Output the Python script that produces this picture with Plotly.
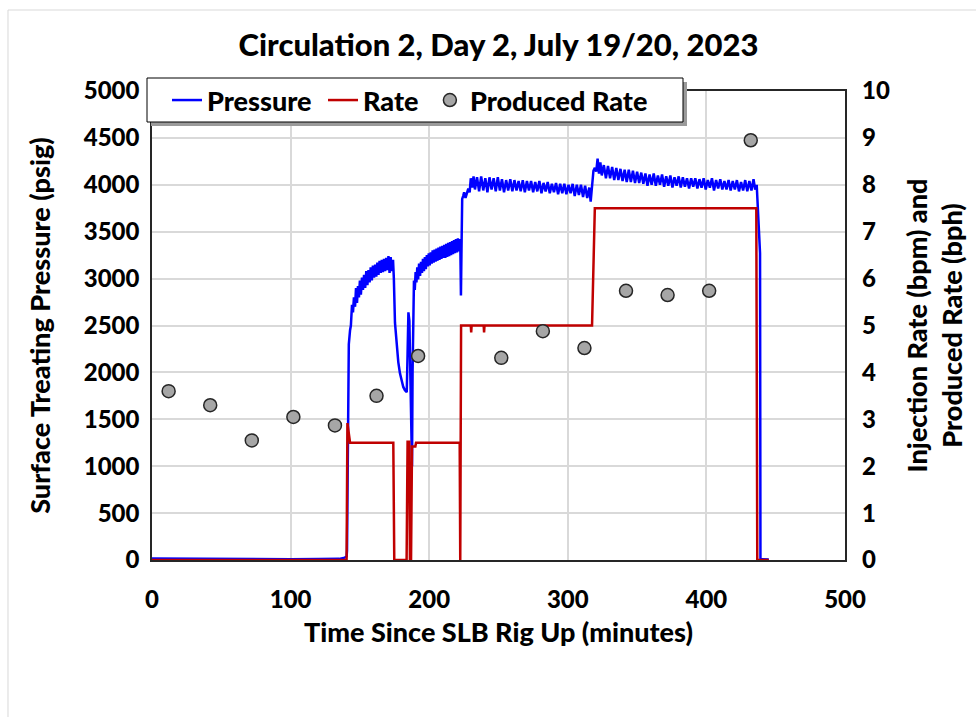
import plotly.graph_objects as go

# ---------------- data ----------------
# Pressure trace, segment by segment (minutes, psig)
p_t_base = [0, 20, 40, 60, 80, 100, 120, 135, 139, 140.4]
p_v_base = [15, 12, 10, 10, 8, 8, 10, 12, 25, 40]

p_t_rise1 = [140.7, 141.4, 142.0, 142.9, 143.5, 144.3, 145.0, 145.7, 146.5, 147.2, 147.9, 148.6,
             149.3, 150.0, 150.7, 151.5, 152.2, 153.0, 153.8, 154.6, 155.4, 156.2, 157.0, 157.8,
             158.6, 159.4, 160.2, 161.0, 161.8, 162.6, 163.4, 164.2, 165.0, 165.8, 166.6, 167.4,
             168.2, 169.0, 169.8, 170.6, 171.4, 172.2, 173.0, 173.9]
p_v_rise1 = [100, 1500, 2300, 2450, 2500, 2720, 2640, 2800, 2700, 2900, 2740, 2920,
             2800, 2980, 2830, 3010, 2880, 3040, 2900, 3080, 2930, 3090, 2960, 3120,
             2980, 3140, 3010, 3150, 3020, 3170, 3040, 3190, 3060, 3200, 3070, 3210,
             3080, 3220, 3090, 3240, 3060, 3230, 3080, 3200]

p_t_fall = [174.5, 175.3, 176.5, 177.7, 178.9, 180.1, 181.3, 182.5, 183.8, 184.4, 185.0, 185.7,
            186.4, 187.0, 187.6]
p_v_fall = [3000, 2530, 2270, 2110, 1990, 1910, 1845, 1810, 1790, 2200, 2640, 2550,
            1800, 1100, 1000]

p_t_rise2 = [188.0, 188.5, 189.0, 189.6, 190.2, 190.8, 191.4, 192.0, 192.7, 193.4, 194.1, 194.8,
             195.5, 196.2, 196.9, 197.6, 198.3, 199.0, 199.7, 200.4, 201.1, 201.8, 202.5, 203.2,
             203.9, 204.6, 205.3, 206.0, 206.7, 207.4, 208.1, 208.8, 209.5, 210.2, 210.9, 211.6,
             212.3, 213.0, 213.7, 214.4, 215.1, 215.8, 216.5, 217.2, 217.9, 218.6, 219.3, 220.0,
             220.7, 221.4, 222.0, 222.5, 222.9, 223.3, 223.8]
p_v_rise2 = [2000, 2800, 2980, 2880, 3070, 2960, 3120, 2990, 3160, 3030, 3180, 3060,
             3210, 3080, 3230, 3100, 3250, 3130, 3270, 3140, 3280, 3160, 3300, 3170,
             3310, 3180, 3320, 3190, 3330, 3200, 3340, 3210, 3350, 3220, 3360, 3220,
             3370, 3230, 3380, 3240, 3390, 3250, 3400, 3260, 3410, 3270, 3420, 3280,
             3430, 3290, 3420, 3300, 2820, 3300, 3850]

p_t_plat1 = [224.5, 225.2, 226.2, 227.2, 228.2, 229.2, 230.0, 231.0, 232.0, 233.0, 234.5, 236.0,
             237.5, 239.0, 240.5, 242.0, 243.5, 245.0, 246.5, 248.0, 249.5, 251.0, 252.5, 254.0,
             255.5, 257.0, 258.5, 260.0, 261.5, 263.0, 264.5, 266.0, 267.5, 269.0, 270.5, 272.0,
             273.5, 275.0, 276.5, 278.0, 279.5, 281.0, 282.5, 284.0, 285.5, 287.0, 288.5, 290.0,
             291.5, 293.0, 294.5, 296.0, 297.5, 299.0, 300.5, 302.0, 303.5, 305.0, 306.5, 308.0,
             309.5, 311.0, 312.5, 314.0, 315.5, 316.5, 317.5]
p_v_plat1 = [3880, 3920, 3860, 3900, 3960, 3920, 4070, 3970, 4090, 3950, 4080, 3930,
             4090, 3940, 4070, 3920, 4080, 3950, 4070, 3930, 4080, 3940, 4060, 3920,
             4050, 3940, 4060, 3930, 4050, 3940, 4040, 3930, 4050, 3920, 4040, 3940,
             4040, 3920, 4030, 3930, 4040, 3910, 4020, 3930, 4030, 3910, 4010, 3920,
             4020, 3900, 4010, 3910, 4010, 3900, 4000, 3910, 4010, 3880, 4000, 3890,
             4000, 3870, 3990, 3860, 3970, 3820, 3960]

p_t_plat2 = [318.5, 319.5, 320.5, 321.5, 322.5, 323.5, 324.5, 326.0, 327.5, 329.0, 330.5, 332.0,
             333.5, 335.0, 336.5, 338.0, 339.5, 341.0, 342.5, 344.0, 345.5, 347.0, 348.5, 350.0,
             351.5, 353.0, 354.5, 356.0, 357.5, 359.0, 360.5, 362.0, 363.5, 365.0, 366.5, 368.0,
             369.5, 371.0, 372.5, 374.0, 375.5, 377.0, 378.5, 380.0, 381.5, 383.0, 384.5, 386.0,
             387.5, 389.0, 390.5, 392.0, 393.5, 395.0, 396.5, 398.0, 399.5, 401.0, 402.5, 404.0,
             405.5, 407.0, 408.5, 410.0, 411.5, 413.0, 414.5, 416.0, 417.5, 419.0, 420.5, 422.0,
             423.5, 425.0, 426.5, 428.0, 429.5, 431.0, 432.5, 434.0, 435.2, 436.3, 438.7, 439.0,
             445.0]
p_v_plat2 = [4150, 4180, 4140, 4280, 4120, 4240, 4100, 4210, 4070, 4200, 4070, 4190,
             4050, 4180, 4050, 4170, 4040, 4160, 4030, 4160, 4030, 4150, 4020, 4140,
             4020, 4130, 4010, 4120, 3990, 4110, 4000, 4120, 3990, 4100, 4000, 4110,
             3980, 4090, 3990, 4100, 3970, 4080, 3990, 4090, 3970, 4080, 3980, 4070,
             3960, 4070, 3980, 4070, 3960, 4060, 3970, 4070, 3950, 4050, 3970, 4070,
             3940, 4050, 3960, 4060, 3950, 4040, 3950, 4050, 3940, 4040, 3950, 4050,
             3930, 4030, 3940, 4050, 3930, 4040, 3940, 4060, 3950, 4000, 3270, 10,
             5]

# Injection rate (minutes, bpm)
rate_t = [0, 140.4, 141.0, 142.9, 174.1, 174.8, 183.7, 184.4, 185.6, 186.1, 186.9, 187.6,
          190.0, 190.5, 222.0, 222.4, 223.0, 230.0, 230.3, 230.6, 239.3, 239.6, 239.9,
          317.5, 319.5, 436.0, 436.7, 445.0]
rate_v = [0, 0, 2.92, 2.5, 2.5, 0, 0, 2.52, 2.52, 0, 0, 2.42,
          2.42, 2.5, 2.5, 0, 5.0, 5.0, 4.85, 5.0, 5.0, 4.85, 5.0,
          5.0, 7.5, 7.5, 0, 0]

# Produced rate (minutes, bph)
prod_t = [12, 42, 72, 102, 132, 162, 192, 252, 282, 312, 342, 372, 402, 432]
prod_v = [3.6, 3.3, 2.55, 3.05, 2.87, 3.5, 4.35, 4.31, 4.88, 4.52, 5.74, 5.65, 5.74, 8.95]

x_ticks = [0, 100, 200, 300, 400, 500]
y_ticks = [0, 500, 1000, 1500, 2000, 2500, 3000, 3500, 4000, 4500, 5000]
y2_ticks = [0, 1, 2, 3, 4, 5, 6, 7, 8, 9, 10]

p_t = p_t_base + p_t_rise1 + p_t_fall + p_t_rise2 + p_t_plat1 + p_t_plat2
p_v = p_v_base + p_v_rise1 + p_v_fall + p_v_rise2 + p_v_plat1 + p_v_plat2

# ---------------- figure ----------------
FONT = "Lato"
NB = "\u00a0"
L, T, W, H = 152, 91, 693, 469   # plot area in pixels


def px(x):
    return (x - L) / W


def py(y):
    return (T + H - y) / H


fig = go.Figure()
fig.add_trace(go.Scatter(x=p_t, y=p_v, mode="lines", name="Pressure" + NB,
                         line=dict(color="#0000FF", width=2.5)))
fig.add_trace(go.Scatter(x=rate_t, y=rate_v, mode="lines", name="Rate" + NB, yaxis="y2",
                         line=dict(color="#C00000", width=2.5)))
fig.add_trace(go.Scatter(x=prod_t, y=prod_v, mode="markers", name="Produced Rate", yaxis="y2",
                         marker=dict(color="#A6A6A6", size=13,
                                     line=dict(color="#262626", width=1.5))))

axis_font = dict(family=FONT, size=24, color="black", weight=900)
title_font = dict(family=FONT, size=27, color="black", weight=900)

fig.update_layout(
    width=976, height=717,
    margin=dict(l=L, r=976 - L - W, t=T, b=717 - T - H),
    paper_bgcolor="white", plot_bgcolor="white",
    showlegend=True,
    title=dict(text="Circulation 2, Day 2, July 19/20, 2023", x=0.5, xref="paper",
               y=1 - 45 / 717, yref="container", xanchor="center", yanchor="middle",
               font=dict(family=FONT, size=31, color="black", weight=900)),
    xaxis=dict(range=[0, 500], tickvals=x_ticks, showgrid=True, gridcolor="#D9D9D9",
               gridwidth=1.5, showline=True, linecolor="#262626", linewidth=1.5,
               mirror=True, zeroline=False, ticks="", tickfont=axis_font,
               ticklabelstandoff=17,
               title=dict(text="Time Since SLB Rig Up (minutes)", font=title_font, standoff=12)),
    yaxis=dict(range=[0, 5000], tickvals=y_ticks, showgrid=True, gridcolor="#D9D9D9",
               gridwidth=1.5, showline=True, linecolor="#262626", linewidth=1.5,
               mirror=True, zeroline=False, ticks="", tickfont=axis_font,
               ticklabelstandoff=6,
               title=dict(text="Surface Treating Pressure (psig)", font=title_font, standoff=25)),
    yaxis2=dict(range=[0, 10], tickvals=y2_ticks, overlaying="y", side="right",
                showgrid=False, showline=False, zeroline=False, ticks="", tickfont=axis_font,
                ticklabelstandoff=16,
                title=dict(text="Injection Rate (bpm) and<br>Produced Rate (bph)",
                           font=title_font, standoff=19)),
    legend=dict(orientation="h", x=px(167), y=py(76), xanchor="left", yanchor="top",
                bgcolor="rgba(0,0,0,0)", borderwidth=0,
                font=dict(family=FONT, size=27, color="black", weight=900),
                itemwidth=30, tracegroupgap=0),
    shapes=[
        dict(type="rect", xref="paper", yref="paper", x0=-0.2078, y0=-0.341, x1=1.195, y1=1.1727,
             line=dict(color="#D9D9D9", width=1), fillcolor="rgba(0,0,0,0)", layer="below"),
        # legend shadow and box
        dict(type="rect", xref="paper", yref="paper", x0=px(151), x1=px(687), y0=py(126), y1=py(82),
             line=dict(width=0), fillcolor="#9A9A9A", layer="above"),
        dict(type="rect", xref="paper", yref="paper", x0=px(147), x1=px(683), y0=py(122), y1=py(78),
             line=dict(color="black", width=1), fillcolor="white", layer="above"),
    ],
)

fig.write_html("out.html")
